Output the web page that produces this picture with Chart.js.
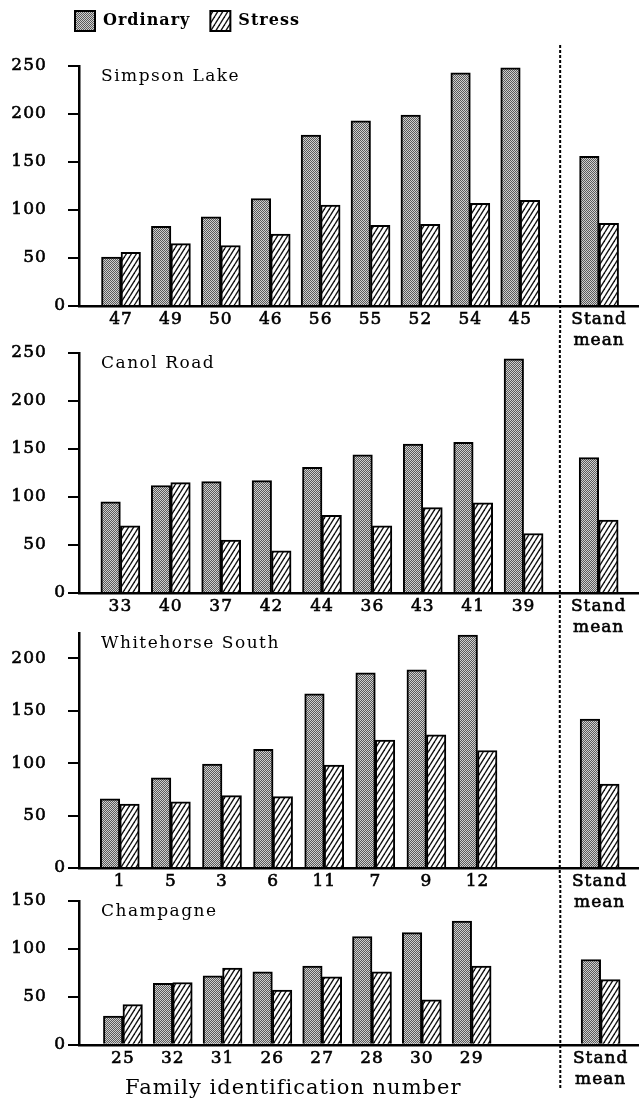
<!DOCTYPE html>
<html>
<head>
<meta charset="utf-8">
<script src="https://cdn.jsdelivr.net/npm/chart.js@4.4.0/dist/chart.umd.min.js"></script>
<style>
html, body { margin: 0; padding: 0; background: #fff; }
#wrap { position: relative; width: 639px; height: 1104px; overflow: hidden; background: #fff; }
#wrap canvas { position: absolute; left: 0; }
</style>
</head>
<body>
<div id="wrap">
  <canvas id="c0"></canvas>
  <canvas id="c1"></canvas>
  <canvas id="c2"></canvas>
  <canvas id="c3"></canvas>
</div>
<script>
// ---------------- DATA ----------------
const seriesNames = ['Ordinary', 'Stress'];
const panelNames = ['Simpson Lake', 'Canol Road', 'Whitehorse South', 'Champagne'];
const standLabel = ['Stand', 'mean'];
const axisTitle = 'Family identification number';

const simpsonFamilies = ['47', '49', '50', '46', '56', '55', '52', '54', '45'];
const simpsonOrdinary = [51, 83, 93, 112, 178, 193, 199, 243, 248];
const simpsonStress   = [56, 65, 63, 75, 105, 84, 85, 107, 110];
const simpsonMean     = [156, 86];

const canolFamilies = ['33', '40', '37', '42', '44', '36', '43', '41', '39'];
const canolOrdinary = [95, 112, 116, 117, 131, 144, 155, 157, 244];
const canolStress   = [70, 115, 55, 44, 81, 70, 89, 94, 62];
const canolMean     = [141, 76];

const whitehorseFamilies = ['1', '5', '3', '6', '11', '7', '9', '12'];
const whitehorseOrdinary = [66, 86, 99, 113, 166, 186, 189, 222];
const whitehorseStress   = [61, 63, 69, 68, 98, 122, 127, 112];
const whitehorseMean     = [142, 80];

const champagneFamilies = ['25', '32', '31', '26', '27', '28', '30', '29'];
const champagneOrdinary = [30, 64, 72, 76, 82, 113, 117, 129];
const champagneStress   = [42, 65, 80, 57, 71, 76, 47, 82];
const champagneMean     = [89, 68];

const yAxisMax = [250, 250, 224, 150];
const yTickStep = 50;

const panels = [
  { name: panelNames[0], families: simpsonFamilies, ordinary: simpsonOrdinary, stress: simpsonStress, mean: simpsonMean },
  { name: panelNames[1], families: canolFamilies, ordinary: canolOrdinary, stress: canolStress, mean: canolMean },
  { name: panelNames[2], families: whitehorseFamilies, ordinary: whitehorseOrdinary, stress: whitehorseStress, mean: whitehorseMean },
  { name: panelNames[3], families: champagneFamilies, ordinary: champagneOrdinary, stress: champagneStress, mean: champagneMean }
];

// ---------------- LAYOUT ----------------
const FONT = '"DejaVu Serif", serif';
const frames = [
  { top: 0,   height: 351, padTop: 16, xAxisH: 45, xMin: 0.158, xMax: 11.38, stand: 10.58, divider: 9.80, lineFrom: 45, lineTo: 333 },
  { top: 333, height: 305, padTop: 20, xAxisH: 45, xMin: 0.179, xMax: 11.29, stand: 10.49, divider: 9.72, lineFrom: 333, lineTo: 613 },
  { top: 613, height: 300, padTop: 20, xAxisH: 45, xMin: 0.202, xMax: 11.16, stand: 10.39, divider: 9.61, lineFrom: 613, lineTo: 881 },
  { top: 881, height: 234, padTop: 20, xAxisH: 45, xMin: 0.118, xMax: 11.36, stand: 10.59, divider: 9.78, lineFrom: 881, lineTo: 1090 }
];

function ordinaryPattern(ctx) {
  const c = document.createElement('canvas');
  c.width = 2; c.height = 2;
  const g = c.getContext('2d');
  g.fillStyle = '#cfcfcf'; g.fillRect(0, 0, 2, 2);
  g.fillStyle = '#5a5a5a'; g.fillRect(0, 0, 1, 1); g.fillRect(1, 1, 1, 1);
  return ctx.createPattern(c, 'repeat');
}
function stressPattern(ctx) {
  const W = 5, H = 8;
  const c = document.createElement('canvas');
  c.width = W; c.height = H;
  const g = c.getContext('2d');
  g.fillStyle = '#ffffff'; g.fillRect(0, 0, W, H);
  g.strokeStyle = '#111111'; g.lineWidth = 1.4;
  [[0, 0], [-W, 0], [W, 0], [0, -H], [0, H]].forEach(([dx, dy]) => {
    g.beginPath(); g.moveTo(dx, H + dy); g.lineTo(W + dx, dy); g.stroke();
  });
  return ctx.createPattern(c, 'repeat');
}

const spacingPlugin = {
  id: 'spacing',
  beforeUpdate(chart) { chart.ctx.letterSpacing = '1px'; },
  beforeDraw(chart) { chart.ctx.letterSpacing = '1px'; }
};

const decorPlugin = {
  id: 'panelDecor',
  afterLayout(chart, args, opts) {
    if (opts.shiftLegend && chart.legend) {
      const l = chart.legend;
      l.left += opts.shiftLegend[0]; l.right += opts.shiftLegend[0];
      l.top += opts.shiftLegend[1]; l.bottom += opts.shiftLegend[1];
    }
    if (opts.shiftTitle && chart.titleBlock) {
      const t = chart.titleBlock;
      t.left += opts.shiftTitle[0]; t.right += opts.shiftTitle[0];
      t.top += opts.shiftTitle[1]; t.bottom += opts.shiftTitle[1];
    }
  },
  afterDraw(chart, args, opts) {
    const { ctx, chartArea } = chart;
    const x = chart.scales.x.getPixelForValue(opts.divider);
    ctx.save();
    ctx.strokeStyle = '#000';
    ctx.lineWidth = 2;
    ctx.setLineDash([3, 2]);
    ctx.lineDashOffset = opts.dashOffset;
    ctx.beginPath();
    ctx.moveTo(x, opts.from);
    ctx.lineTo(x, opts.to);
    ctx.stroke();
    ctx.restore();

    ctx.save();
    ctx.font = '17px ' + FONT;
    ctx.letterSpacing = '1.5px';
    ctx.fillStyle = '#000';
    ctx.textAlign = 'left';
    ctx.textBaseline = 'alphabetic';
    ctx.fillText(opts.name, chartArea.left + 22, chartArea.top + 15);
    ctx.restore();
  }
};

panels.forEach((panel, p) => {
  const fr = frames[p];
  const canvas = document.getElementById('c' + p);
  canvas.width = 639;
  canvas.height = fr.height;
  canvas.style.width = '639px';
  canvas.style.height = fr.height + 'px';
  canvas.style.top = fr.top + 'px';
  const ctx = canvas.getContext('2d');

  const positions = panel.families.map((_, i) => i + 1).concat([fr.stand]);
  const labels = panel.families.concat([standLabel]);
  const ordVals = panel.ordinary.concat([panel.mean[0]]);
  const strVals = panel.stress.concat([panel.mean[1]]);

  new Chart(ctx, {
    type: 'bar',
    data: {
      datasets: [
        {
          label: seriesNames[0],
          data: positions.map((x, i) => ({ x: x, y: ordVals[i] })),
          backgroundColor: ordinaryPattern(ctx),
          borderColor: '#000',
          borderWidth: 2,
          barThickness: 19.5
        },
        {
          label: seriesNames[1],
          data: positions.map((x, i) => ({ x: x, y: strVals[i] })),
          backgroundColor: stressPattern(ctx),
          borderColor: '#000',
          borderWidth: 2,
          barThickness: 19.5
        }
      ]
    },
    options: {
      responsive: false,
      animation: false,
      devicePixelRatio: 1,
      layout: { padding: { top: fr.padTop, left: 0, right: 0, bottom: 0 } },
      plugins: {
        legend: p === 0 ? {
          display: true,
          position: 'top',
          align: 'start',
          labels: { boxWidth: 20, boxHeight: 20, padding: 20, color: '#000', font: { family: FONT, size: 16, weight: 'bold' } }
        } : { display: false },
        title: p === 3 ? {
          display: true,
          text: axisTitle,
          position: 'bottom',
          align: 'start',
          color: '#000',
          padding: 0,
          font: { family: FONT, size: 21, weight: 'normal', lineHeight: 1.2 }
        } : { display: false },
        tooltip: { enabled: false },
        panelDecor: {
          name: panel.name,
          divider: fr.divider,
          from: fr.lineFrom - fr.top,
          to: fr.lineTo - fr.top,
          dashOffset: fr.lineFrom - 45,
          shiftLegend: p === 0 ? [55, -25] : null,
          shiftTitle: p === 3 ? [125, -14] : null
        }
      },
      scales: {
        x: {
          type: 'linear',
          min: fr.xMin,
          max: fr.xMax,
          offset: false,
          grid: { display: false, drawTicks: false },
          border: { display: true, color: '#000', width: 2.5 },
          ticks: {
            autoSkip: false, maxRotation: 0, minRotation: 0, padding: 3,
            color: '#000',
            textStrokeColor: '#000',
            textStrokeWidth: 0.6,
            font: { family: FONT, size: 17, lineHeight: 1.25 },
            callback: (v, i) => labels[i]
          },
          afterBuildTicks: (s) => { s.ticks = positions.map(v => ({ value: v })); },
          afterFit: (s) => { s.height = fr.xAxisH; }
        },
        y: {
          min: 0,
          max: yAxisMax[p],
          grid: { display: true, drawOnChartArea: false, drawTicks: true, tickLength: 11, color: '#000', lineWidth: 2 },
          border: { display: true, color: '#000', width: 2.5 },
          ticks: {
            stepSize: yTickStep, includeBounds: false, autoSkip: false, padding: 2,
            color: '#000',
            textStrokeColor: '#000',
            textStrokeWidth: 0.6,
            font: { family: FONT, size: 17 },
            callback: (v) => v === 0 ? '0' : v + '   '
          },
          afterFit: (s) => { s.width = 79; }
        }
      }
    },
    plugins: [spacingPlugin, decorPlugin]
  });
});
</script>
</body>
</html>
